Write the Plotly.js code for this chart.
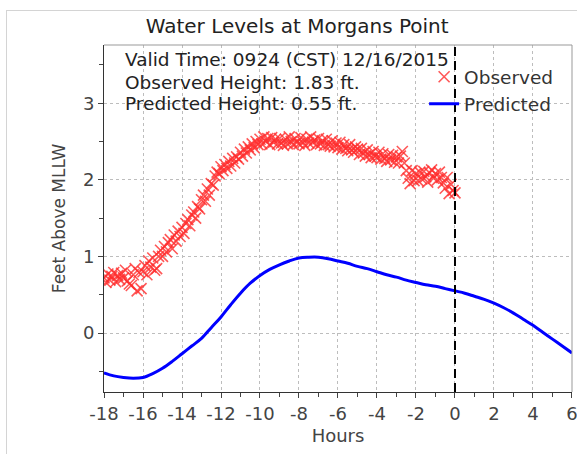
<!DOCTYPE html>
<html>
<head>
<meta charset="utf-8">
<script src="https://cdn.plot.ly/plotly-3.0.1.min.js"></script>
<style>
  html, body { margin: 0; padding: 0; background: #fff; }
  #wrap { position: relative; width: 577px; height: 454px; overflow: hidden; }
  #chart { width: 577px; height: 454px; }
  #frame { position: absolute; left: 6px; top: 10px; width: 600px; height: 500px;
           border-left: 1px solid #d4d4d4; border-top: 1px solid #d4d4d4; pointer-events: none; }
</style>
</head>
<body>
<div id="wrap">
  <div id="chart"></div>
  <div id="frame"></div>
</div>
<script>
// ---- data ----
const chartTitle = "Water Levels at Morgans Point";
const infoLines = ["Valid Time: 0924 (CST) 12/16/2015", "Observed Height: 1.83 ft.", "Predicted Height: 0.55 ft."];

// Observed: every 6 minutes (0.1 h) from -18 h to 0 h
const obsStartHour = -18;
const obsStepHour = 0.1;
const observedFt = [
  0.72,0.66,0.77,0.69,0.74,0.79,0.67,0.75,0.70,0.78,
  0.72,0.82,0.68,0.64,0.62,0.76,0.84,0.55,0.79,0.58,
  0.80,0.88,0.76,0.94,0.86,0.98,0.82,0.84,1.00,1.08,
  1.00,1.13,1.06,1.18,1.22,1.10,1.28,1.20,1.33,1.26,
  1.38,1.30,1.43,1.48,1.40,1.54,1.58,1.50,1.65,1.62,
  1.74,1.80,1.72,1.88,1.80,1.95,1.93,2.05,2.10,2.08,
  2.17,2.12,2.20,2.15,2.24,2.18,2.28,2.22,2.30,2.27,
  2.36,2.31,2.40,2.35,2.43,2.39,2.47,2.42,2.50,2.46,
  2.53,2.47,2.56,2.50,2.54,2.46,2.55,2.49,2.53,2.47,
  2.54,2.48,2.45,2.53,2.47,2.56,2.50,2.46,2.54,2.49,
  2.47,2.55,2.49,2.45,2.53,2.48,2.56,2.49,2.52,2.46,
  2.54,2.47,2.51,2.45,2.53,2.46,2.44,2.51,2.43,2.48,
  2.42,2.49,2.40,2.46,2.41,2.38,2.46,2.39,2.36,2.43,
  2.40,2.33,2.41,2.35,2.31,2.39,2.33,2.29,2.37,2.31,
  2.29,2.36,2.27,2.34,2.28,2.24,2.33,2.26,2.32,2.23,
  2.30,2.22,2.31,2.37,2.22,2.12,2.02,1.95,2.12,1.99,
  2.08,1.99,2.10,2.01,2.11,2.04,1.97,2.09,2.13,2.02,
  2.08,2.00,2.10,2.03,1.96,1.89,2.03,1.82,1.94,1.86,
  1.83
];

// Predicted: every 30 minutes from -18 h to +6 h
const predStartHour = -18;
const predStepHour = 0.5;
const predictedFt = [
  -0.52,-0.56,-0.58,-0.59,-0.58,-0.53,-0.46,-0.37,-0.27,-0.17,
  -0.07, 0.07, 0.21, 0.37, 0.52, 0.65, 0.75, 0.83, 0.89, 0.94,
   0.98, 0.99, 0.99, 0.97, 0.94, 0.91, 0.87, 0.84, 0.80, 0.76,
   0.73, 0.69, 0.66, 0.63, 0.61, 0.58, 0.55, 0.52, 0.48, 0.44,
   0.39, 0.33, 0.26, 0.18, 0.10, 0.01,-0.08,-0.17,-0.26
];

const xTickVals = [-18,-16,-14,-12,-10,-8,-6,-4,-2,0,2,4,6];
const xTickText = ["-18","-16","-14","-12","-10","-8","-6","-4","-2","0","2","4","6"];
const yTickVals = [0,1,2,3];
const yTickText = ["0","1","2","3"];
const nowHour = 0;

const obsHours = observedFt.map((_, i) => +(obsStartHour + i * obsStepHour).toFixed(2));
const predHours = predictedFt.map((_, i) => +(predStartHour + i * predStepHour).toFixed(2));

const FONT = "DejaVu Sans, sans-serif";

const traces = [
  {
    x: obsHours, y: observedFt, name: "Observed", type: "scatter", mode: "markers",
    legendgroup: "a",
    marker: { symbol: "x-thin", size: 11, color: "rgba(255,45,45,0.8)",
              line: { width: 1.6, color: "rgba(255,45,45,0.8)" } }
  },
  {
    x: predHours, y: predictedFt, name: "Predicted", type: "scatter", mode: "lines",
    legendgroup: "b",
    line: { color: "#0000ff", width: 3, shape: "spline" }
  }
];

const annotations = infoLines.map((t, i) => ({
  xref: "paper", yref: "paper", x: 0.0406, y: [0.957, 0.893, 0.830][i],
  xanchor: "left", yanchor: "middle", showarrow: false, text: t,
  font: { family: FONT, size: 18.5, color: "#222" }
}));

const layout = {
  width: 577, height: 454,
  margin: { l: 104, r: 5, t: 45, b: 62 },
  paper_bgcolor: "#fff", plot_bgcolor: "#fff",
  title: { text: chartTitle, xref: "container", x: 0.515, xanchor: "center",
           yref: "container", y: 0.943, yanchor: "middle",
           font: { family: FONT, size: 20, color: "#222" } },
  font: { family: FONT, color: "#444" },
  showlegend: true,
  legend: { x: 0.684, y: 0.962, xanchor: "left", yanchor: "top", bgcolor: "rgba(0,0,0,0)",
            borderwidth: 0, tracegroupgap: 0, font: { family: FONT, size: 18.5, color: "#333" } },
  xaxis: {
    range: [-18, 6.001], tickmode: "array", tickvals: xTickVals, ticktext: xTickText,
    ticklabeloverflow: "allow",
    ticks: "outside", ticklen: 5, tickcolor: "#444", tickfont: { family: FONT, size: 18, color: "#444" },
    showline: true, linecolor: "#333", linewidth: 1, zeroline: false,
    showgrid: true, gridcolor: "#bdbdbd", griddash: "3px,3px", gridwidth: 1,
    minor: { tickmode: "linear", tick0: -18, dtick: 1, ticks: "outside", ticklen: 4, tickcolor: "#444", showgrid: false },
    title: { text: "Hours", font: { family: FONT, size: 18, color: "#444" }, standoff: 6 }
  },
  yaxis: {
    range: [-0.77, 3.76], tickmode: "array", tickvals: yTickVals, ticktext: yTickText,
    ticks: "outside", ticklen: 5, tickcolor: "#444", tickfont: { family: FONT, size: 18, color: "#444" },
    showline: true, linecolor: "#333", linewidth: 1, zeroline: false,
    showgrid: true, gridcolor: "#bdbdbd", griddash: "3px,3px", gridwidth: 1,
    minor: { tickmode: "linear", tick0: 0, dtick: 0.5, ticks: "outside", ticklen: 4, tickcolor: "#444", showgrid: false },
    title: { text: "Feet Above MLLW", font: { family: FONT, size: 17, color: "#444" }, standoff: 12 }
  },
  shapes: [
    { type: "line", xref: "x", yref: "paper", x0: nowHour, x1: nowHour, y0: 0, y1: 1,
      line: { color: "#000", width: 2, dash: "9px,5px" } },
    { type: "line", xref: "paper", yref: "paper", x0: 0, x1: 1, y0: 1, y1: 1,
      line: { color: "#999", width: 1 } },
    { type: "line", xref: "paper", yref: "paper", x0: 1, x1: 1, y0: 0, y1: 1,
      line: { color: "#999", width: 1 } }
  ],
  annotations: annotations
};

Plotly.newPlot("chart", traces, layout, { displayModeBar: false, staticPlot: true });
</script>
</body>
</html>
